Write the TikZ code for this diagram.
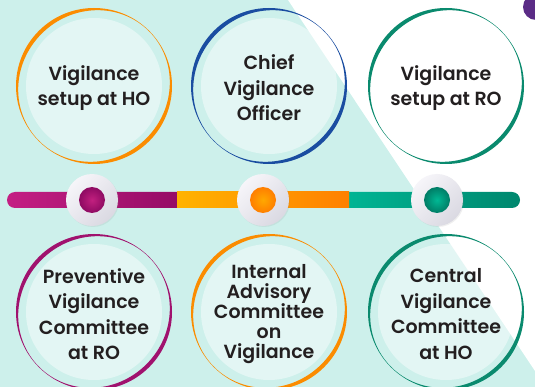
\documentclass[tikz,border=0pt]{standalone}
\usepackage{fontspec}
\setmainfont{Poppins}[BoldFont={Poppins SemiBold}]
\usetikzlibrary{shadows}
\definecolor{bgteal}{HTML}{CDF0EB}
\definecolor{txt}{HTML}{231F20}
\definecolor{cpurple}{HTML}{5B2C86}
\definecolor{rorange}{HTML}{FB8C00}
\definecolor{rblue}{HTML}{1A4DA1}
\definecolor{rgreen}{HTML}{0A8A6E}
\definecolor{rmag}{HTML}{A0126E}
\definecolor{magA}{HTML}{C41F83}
\definecolor{magB}{HTML}{920A64}
\definecolor{orgA}{HTML}{FFB300}
\definecolor{orgB}{HTML}{FF8000}
\definecolor{grnA}{HTML}{00B896}
\definecolor{grnB}{HTML}{00876E}
\definecolor{gl}{HTML}{F6F5F9}
\definecolor{gd}{HTML}{DAD9E2}
\definecolor{dmagI}{HTML}{C2207F}
\definecolor{dmagO}{HTML}{8E0A62}
\definecolor{dorgI}{HTML}{FFA800}
\definecolor{dorgO}{HTML}{FF7E00}
\definecolor{dgrnI}{HTML}{00B894}
\definecolor{dgrnO}{HTML}{007D66}
\newcommand\ringcirc[3]{%
  \begin{scope}[shift={(#1,#2)}, rotate=45]
    \fill[#3, even odd rule] (0,0) circle[radius=78pt] (0,0) ellipse[x radius=77.6pt, y radius=74pt];
  \end{scope}
  \fill[white, fill opacity=0.45] (#1,#2) circle[radius=68pt];}
\newcommand\knob[4]{%
  \shade[shading=axis, top color=gl, bottom color=gd, shading angle=45,
         drop shadow={opacity=0.12, shadow xshift=1pt, shadow yshift=-1pt}] (#1,#2) circle[radius=26pt];
  \shade[inner color=#3, outer color=#4] (#1,#2) circle[radius=13pt];}
\begin{document}
\begin{tikzpicture}[x=1pt,y=-1pt,
  lbl/.style={font=\fontsize{19}{25.5}\selectfont\bfseries, text=txt, align=center, inner sep=0pt},
  lbltight/.style={font=\fontsize{19}{20}\selectfont\bfseries, text=txt, align=center, inner sep=0pt}]
\useasboundingbox (0,0) rectangle (535,387);
\clip (0,0) rectangle (535,387);
\fill[bgteal] (0,0) rectangle (535,387);
\fill[white] (288,0) -- (535,0) -- (535,371) -- cycle;
\fill[cpurple] (536,7) circle[radius=13pt];
% rings
\ringcirc{94}{86}{rorange}
\ringcirc{269}{86}{rblue}
\ringcirc{446}{86}{rgreen}
\ringcirc{94}{312}{rmag}
\ringcirc{269}{312}{rorange}
\ringcirc{446}{312}{rgreen}
% bar
\shade[left color=magA, right color=magB, rounded corners=8pt] (7,192) rectangle (190,208);
\shade[left color=grnA, right color=grnB, rounded corners=8pt] (336,192) rectangle (520,208);
\shade[left color=orgA, right color=orgB] (177,192) rectangle (349,208);
\knob{92}{200}{dmagI}{dmagO}
\knob{263}{200}{dorgI}{dorgO}
\knob{437}{200}{dgrnI}{dgrnO}
% labels
\node[lbl] (t1) at (94,88) {Vigilance\\setup at HO};
\node[lbl] (t2) at (269,88) {Chief\\Vigilance\\Officer};
\node[lbl] (t3) at (446,88) {Vigilance\\setup at RO};
\node[lbl] (t4) at (94,314) {Preventive\\Vigilance\\Committee\\at RO};
\node[lbltight] (t5) at (269,314) {Internal\\Advisory\\Committee\\on\\Vigilance};
\node[lbl] (t6) at (446,314) {Central\\Vigilance\\Committee\\at HO};
\end{tikzpicture}
\end{document}
